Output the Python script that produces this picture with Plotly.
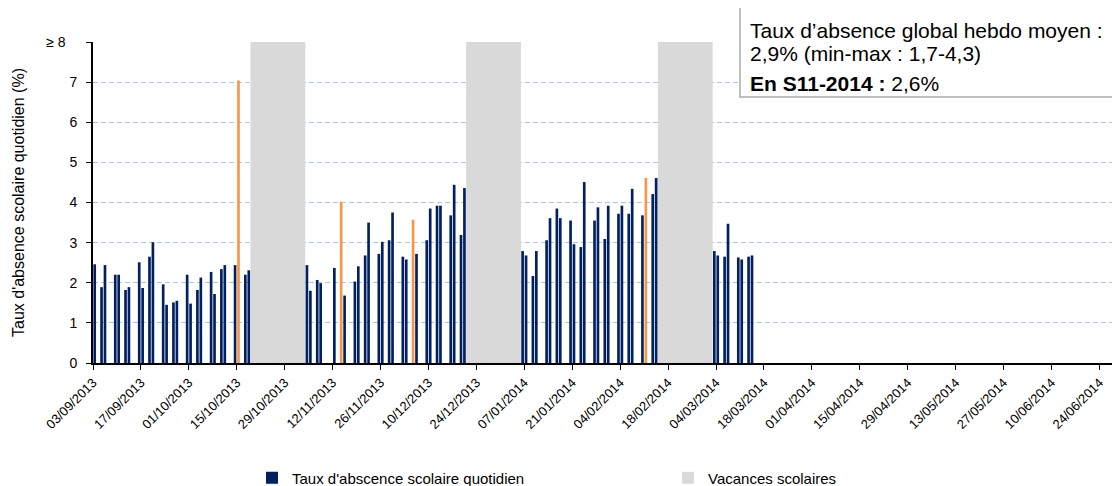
import pandas as pd
import plotly.graph_objects as go

# ---------------- data ----------------
dates = [
    "2013-09-03", "2013-09-05", "2013-09-06",
    "2013-09-09", "2013-09-10", "2013-09-12", "2013-09-13",
    "2013-09-16", "2013-09-17", "2013-09-19", "2013-09-20",
    "2013-09-23", "2013-09-24", "2013-09-26", "2013-09-27",
    "2013-09-30", "2013-10-01", "2013-10-03", "2013-10-04",
    "2013-10-07", "2013-10-08", "2013-10-10", "2013-10-11",
    "2013-10-14", "2013-10-15", "2013-10-17", "2013-10-18",
    "2013-11-04", "2013-11-05", "2013-11-07", "2013-11-08",
    "2013-11-12", "2013-11-14", "2013-11-15",
    "2013-11-18", "2013-11-19", "2013-11-21", "2013-11-22",
    "2013-11-25", "2013-11-26", "2013-11-28", "2013-11-29",
    "2013-12-02", "2013-12-03", "2013-12-05", "2013-12-06",
    "2013-12-09", "2013-12-10", "2013-12-12", "2013-12-13",
    "2013-12-16", "2013-12-17", "2013-12-19", "2013-12-20",
    "2014-01-06", "2014-01-07", "2014-01-09", "2014-01-10",
    "2014-01-13", "2014-01-14", "2014-01-16", "2014-01-17",
    "2014-01-20", "2014-01-21", "2014-01-23", "2014-01-24",
    "2014-01-27", "2014-01-28", "2014-01-30", "2014-01-31",
    "2014-02-03", "2014-02-04", "2014-02-06", "2014-02-07",
    "2014-02-10", "2014-02-11", "2014-02-13", "2014-02-14",
    "2014-03-03", "2014-03-04", "2014-03-06", "2014-03-07",
    "2014-03-10", "2014-03-11", "2014-03-13", "2014-03-14",
]
values = [
    2.46, 1.89, 2.44,
    2.20, 2.20, 1.82, 1.89,
    2.51, 1.87, 2.65, 3.01,
    1.96, 1.45, 1.51, 1.55,
    2.20, 1.48, 1.82, 2.13,
    2.27, 1.72, 2.34, 2.44,
    2.44, 7.04, 2.20, 2.31,
    2.44, 1.80, 2.07, 1.99,
    2.37, 4.02, 1.68,
    2.03, 2.41, 2.68, 3.50,
    2.72, 3.02, 3.06, 3.75,
    2.65, 2.58, 3.57, 2.72,
    3.06, 3.85, 3.92, 3.92,
    3.68, 4.44, 3.19, 4.36,
    2.79, 2.68, 2.17, 2.79,
    3.06, 3.61, 3.85, 3.61,
    3.55, 2.96, 2.89, 4.51,
    3.55, 3.88, 3.09, 3.92,
    3.72, 3.92, 3.72, 4.34,
    3.68, 4.61, 4.21, 4.61,
    2.79, 2.68, 2.65, 3.47,
    2.63, 2.58, 2.65, 2.68,
]
highlight_dates = ["2013-10-15", "2013-11-14", "2013-12-05", "2014-02-11"]

vac_start = ["2013-10-19", "2013-12-21", "2014-02-15"]
vac_end = ["2013-11-04", "2014-01-06", "2014-03-03"]   # day classes resume
vac_level = 8

axis_start = "2013-09-03"
axis_end = "2014-06-30"
y_tickvals = [0, 1, 2, 3, 4, 5, 6, 7, 8]
y_ticktext = ["0", "1", "2", "3", "4", "5", "6", "7", "\u2265 8\u00a0\u00a0\u00a0"]

series_name = "Taux d'abscence scolaire quotidien"
vac_name = "Vacances scolaires"
box_line1 = "Taux d\u2019absence global hebdo moyen :"
box_line2 = "2,9% (min-max : 1,7-4,3)"
box_line3 = "<b>En S11-2014 :</b> 2,6%"
y_title = "Taux d'absence scolaire quotidien (%)"

# ---------------- styling ----------------
NAVY = "#002060"
ORANGE = "#F79646"
GREY = "#D9D9D9"
FONT = "Liberation Sans, Arial, sans-serif"
DAY_MS = 86400000

OFF = 8                      # page body margin in the browser
PAGE_W, PAGE_H = 1120, 486
W, H = PAGE_W - OFF, PAGE_H - OFF
PLOT_L, PLOT_R, PLOT_T, PLOT_B = 93, 1120, 42, 363   # in page pixels
ML = PLOT_L - OFF
MR = 0
MT = PLOT_T - OFF
MB = H - (PLOT_B - OFF)
PW = PLOT_R - PLOT_L
PH = PLOT_B - PLOT_T


def px_x(px):
    return (px - PLOT_L) / PW


def px_y(py):
    return (PLOT_B - py) / PH


d = pd.to_datetime(pd.Series(dates))
x_bars = d + pd.Timedelta(hours=12)
colors = [ORANGE if s in highlight_dates else NAVY for s in dates]

vs = pd.to_datetime(pd.Series(vac_start))
ve = pd.to_datetime(pd.Series(vac_end))
vac_mid = vs + (ve - vs) / 2
vac_w = [(e - s).total_seconds() * 1000 for s, e in zip(vs, ve)]

fig = go.Figure()

fig.add_trace(go.Bar(
    x=vac_mid, y=[vac_level] * len(vac_mid), width=vac_w,
    marker=dict(color=GREY, line=dict(width=0)),
    name=vac_name, legend="legend2", hoverinfo="skip", showlegend=True,
))

fig.add_trace(go.Bar(
    x=x_bars, y=values, width=0.78 * DAY_MS,
    marker=dict(color=colors, line=dict(width=0)),
    name=series_name, legend="legend", showlegend=True,
))

BOX_FONT = 21
LEG_FONT = 15

fig.update_layout(
    width=W, height=H,
    margin=dict(l=ML, r=MR, t=MT, b=MB, autoexpand=False),
    paper_bgcolor="white", plot_bgcolor="white",
    barmode="overlay",
    showlegend=True,
    font=dict(family=FONT, size=13, color="#000000"),
    legend=dict(
        orientation="h", x=px_x(252), y=px_y(478), xanchor="left", yanchor="middle",
        font=dict(family=FONT, size=LEG_FONT, color="#000000"), bgcolor="rgba(0,0,0,0)",
        itemwidth=30, visible=True,
    ),
    legend2=dict(
        orientation="h", x=px_x(668), y=px_y(478), xanchor="left", yanchor="middle",
        font=dict(family=FONT, size=LEG_FONT, color="#000000"), bgcolor="rgba(0,0,0,0)",
        itemwidth=30, visible=True,
    ),
    xaxis=dict(
        type="date", range=[axis_start, axis_end],
        tick0=axis_start, dtick=14 * DAY_MS, tickformat="%d/%m/%Y",
        tickangle=-45, ticks="outside", ticklen=5, tickcolor="#000000",
        showline=True, linecolor="#000000", linewidth=2,
        showgrid=False, zeroline=False,
        tickfont=dict(family=FONT, size=13, color="#000000"),
    ),
    yaxis=dict(
        range=[0, 8], tickvals=y_tickvals, ticktext=y_ticktext,
        ticks="outside", ticklen=5, tickcolor="#000000",
        ticklabelstandoff=6,
        showline=True, linecolor="#000000", linewidth=2,
        showgrid=True, gridcolor="#A9C4F0", gridwidth=1, griddash="5px,3px",
        zeroline=False,
        tickfont=dict(family=FONT, size=14, color="#000000"),
        title=dict(text=y_title, font=dict(family=FONT, size=16, color="#000000"),
                   standoff=18),
    ),
    shapes=[dict(
        type="rect", xref="paper", yref="paper",
        x0=px_x(740), x1=px_x(1140), y0=px_y(97), y1=px_y(2),
        line=dict(color="#BFBFBF", width=2), fillcolor="white", layer="above",
    )],
    annotations=[
        dict(text=box_line1, xref="paper", yref="paper", x=px_x(748), y=px_y(30),
             xanchor="left", yanchor="middle", showarrow=False,
             font=dict(family=FONT, size=BOX_FONT, color="#000000")),
        dict(text=box_line2, xref="paper", yref="paper", x=px_x(748), y=px_y(53),
             xanchor="left", yanchor="middle", showarrow=False,
             font=dict(family=FONT, size=BOX_FONT, color="#000000")),
        dict(text=box_line3, xref="paper", yref="paper", x=px_x(748), y=px_y(83),
             xanchor="left", yanchor="middle", showarrow=False,
             font=dict(family=FONT, size=BOX_FONT, color="#000000")),
    ],
)

fig.write_html("out.html")
